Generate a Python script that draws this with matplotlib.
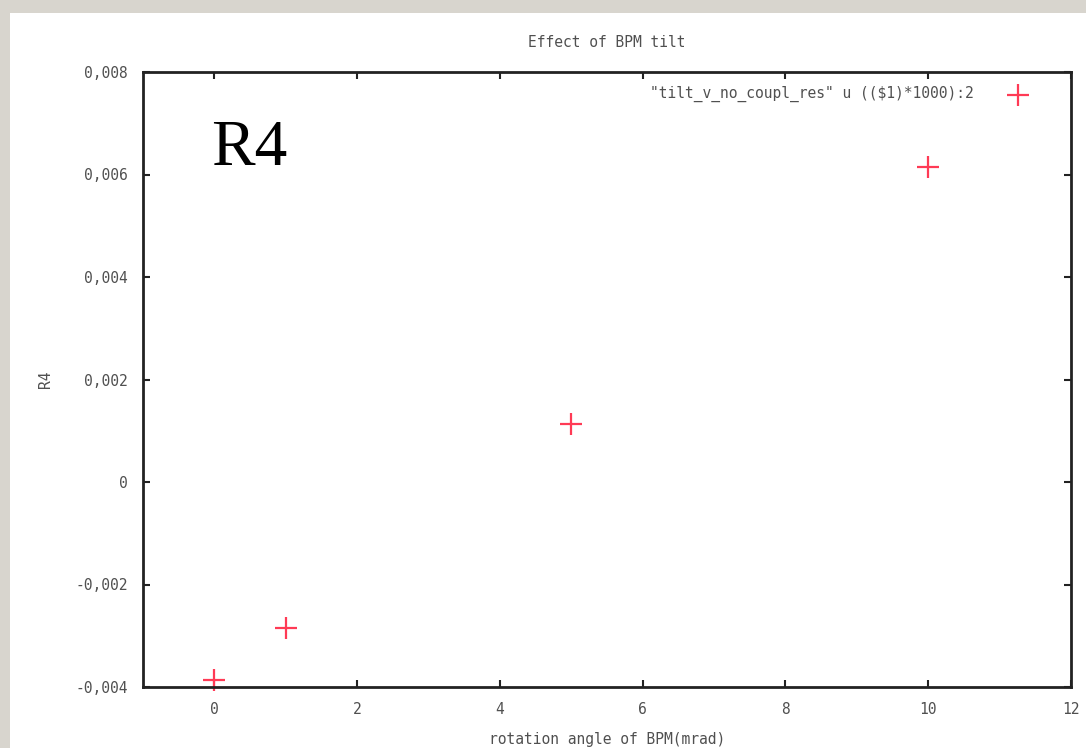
import numpy as np
import matplotlib.pyplot as plt
from matplotlib.patches import Rectangle

# measured R4 vs. BPM rotation angle
angle_mrad = [0, 1, 5, 10]
r4 = [-0.00386, -0.00285, 0.00113, 0.00615]

xticks = [0, 2, 4, 6, 8, 10, 12]
yticks = [-0.004, -0.002, 0, 0.002, 0.004, 0.006, 0.008]
ytick_labels = ["-0,004", "-0,002", "0", "0,002", "0,004", "0,006", "0,008"]

fig = plt.figure(figsize=(10.86, 7.48), dpi=100, facecolor="#d8d5ce")
fig.patches.append(Rectangle((10 / 1086, 0), 1 - 10 / 1086, 1 - 13 / 748,
                             transform=fig.transFigure, facecolor="white",
                             edgecolor="none", zorder=-10))

ax = fig.add_axes([143 / 1086, 61 / 748, 928 / 1086, 615 / 748])
ax.set_facecolor("white")
ax.plot(angle_mrad, r4, linestyle="none", marker="+", markersize=16,
        markeredgewidth=1.6, color="#ff3a55", clip_on=False)

ax.set_xlim(-1, 12)
ax.set_ylim(-0.004, 0.008)
ax.set_xticks(xticks)
ax.set_yticks(yticks)
ax.set_yticklabels(ytick_labels)

mono = "DejaVu Sans Mono"
txt_col = "#505050"
fs = 10.5
ax.tick_params(direction="in", length=5, width=1.5, top=True, right=True,
               labelsize=fs, labelcolor=txt_col, pad=11, color="#222222")
for lab in ax.get_xticklabels() + ax.get_yticklabels():
    lab.set_family(mono)
for sp in ax.spines.values():
    sp.set_linewidth(2)
    sp.set_color("#222222")

ax.set_title("Effect of BPM tilt", family=mono, fontsize=fs, color=txt_col, pad=18)
ax.set_xlabel("rotation angle of BPM(mrad)", family=mono, fontsize=fs,
              color=txt_col, va="center")
ax.xaxis.set_label_coords(0.5, -0.086)
ax.set_ylabel("R4", family=mono, fontsize=fs, color=txt_col, va="center")
ax.yaxis.set_label_coords(-0.105, 0.5)

# legend entry drawn gnuplot-style in the top right corner
ax.text(0.895, 0.964, "\"tilt_v_no_coupl_res\" u (($1)*1000):2", transform=ax.transAxes,
        ha="right", va="center", family=mono, fontsize=fs, color=txt_col)
ax.plot([0.943], [0.962], transform=ax.transAxes, marker="+", markersize=16,
        markeredgewidth=1.6, color="#ff3a55", linestyle="none")

ax.text(0.073, 0.875, "R4", transform=ax.transAxes, family="Liberation Serif",
        fontsize=47, color="black", ha="left", va="center")

fig.savefig("out.png", dpi=100, facecolor=fig.get_facecolor())
